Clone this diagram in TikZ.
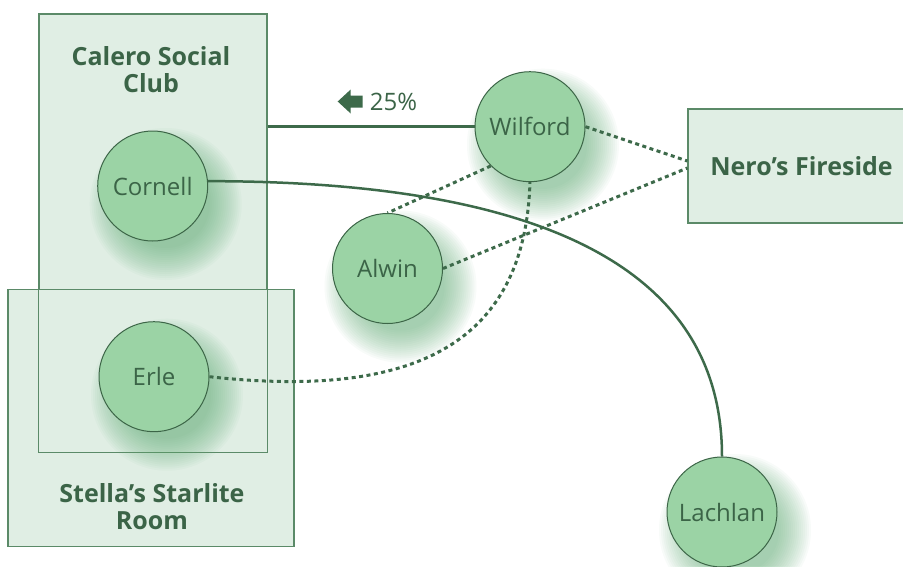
\documentclass[tikz,border=0pt]{standalone}
\usepackage{fontspec}
\setmainfont{Open Sans}
\usetikzlibrary{calc}
\definecolor{boxfill}{HTML}{E0EEE4}
\definecolor{boxline}{HTML}{5B8A68}
\definecolor{nodefill}{HTML}{9BD3A5}
\definecolor{nodeline}{HTML}{3C6547}
\definecolor{textc}{HTML}{3B6447}
\definecolor{edgec}{HTML}{3D6A4A}
\definecolor{glowc}{HTML}{5FAE75}
\pgfdeclarelayer{back}
\pgfdeclarelayer{glowl}
\pgfdeclarelayer{edgel}
\pgfsetlayers{back,glowl,edgel,main}
\tikzset{
  boxst/.style={draw=boxline, fill=boxfill, line width=1.2pt, inner sep=0pt},
  boxborder/.style={draw=boxline, line width=1.2pt},
  title/.style={font=\fontsize{25}{27}\selectfont\bfseries, text=textc, align=center, inner sep=0pt},
  person/.style={circle, draw=nodeline, fill=nodefill, line width=1pt, minimum size=110pt, inner sep=0pt, font=\fontsize{24}{28}\selectfont, text=textc},
  glow/.style={fill=glowc, fill opacity=.045},
  link/.style={draw=edgec, line width=2.5pt},
  dots/.style={draw=edgec, line width=3pt, dash pattern=on 4pt off 3.5pt},
  pcttext/.style={font=\fontsize{24}{28}\selectfont, text=textc, inner sep=0pt}
}
\begin{document}
\begin{tikzpicture}[x=1pt,y=-1pt]
\clip (0,0) rectangle (903,566);
\begin{pgfonlayer}{back}
\fill[white] (0,0) rectangle (903,566);
\node[boxst, minimum width=228pt, minimum height=438pt] (calero) at (153,233) {};
\node[boxst, minimum width=286pt, minimum height=257pt] (stella) at (151,418) {};
\draw[boxborder] (calero.north west) rectangle (calero.south east);
\node[boxst, minimum width=227pt, minimum height=114pt] (nero) at (801.5,166) {};
\node[title] (caleroT) at (151,70) {Calero Social\\Club};
\node[title] (stellaT) at (152,507) {Stella’s Starlite\\Room};
\node[title] (neroT) at (801.5,166) {Nero’s Fireside};
\end{pgfonlayer}
% people
\node[person] (cornell) at (152.7,186) {Cornell};
\node[person] (wilford) at (530,126.7) {Wilford};
\node[person] (alwin) at (387.5,268.5) {Alwin};
\node[person] (erle) at (154,376.7) {Erle};
\node[person] (lachlan) at (722,512) {Lachlan};
% glows
\begin{pgfonlayer}{glowl}
\foreach \n in {cornell,wilford,alwin,erle,lachlan}{
  \foreach \r in {44,46,...,76}{
    \fill[glow] ($(\n.center)+(13,18)$) circle (\r pt);
  }
}
\end{pgfonlayer}
% edges
\begin{pgfonlayer}{edgel}
\draw[link] (calero.east |- wilford.west) -- (wilford.west);
\node[pcttext] (pct) at (393.5,101.5) {25\%};
\fill[edgec] ($(pct.west)+(-32,0)$) -- ++(13,-12) -- ++(0,6) -- ++(12,0) -- ++(0,12) -- ++(-12,0) -- ++(0,6) -- cycle;
\draw[link] (cornell.5) .. controls +(400,0) and +(0,-150) .. (lachlan.north);
\draw[dots] (erle.east) .. controls (420,400) and (525,340) .. (wilford.south);
\draw[dots] (wilford.south west) -- (alwin.north);
\draw[dots] (wilford.east) -- ([yshift=5pt]nero.west);
\draw[dots] (alwin.east) -- ([yshift=-2pt]nero.west);
\end{pgfonlayer}
\end{tikzpicture}
\end{document}
